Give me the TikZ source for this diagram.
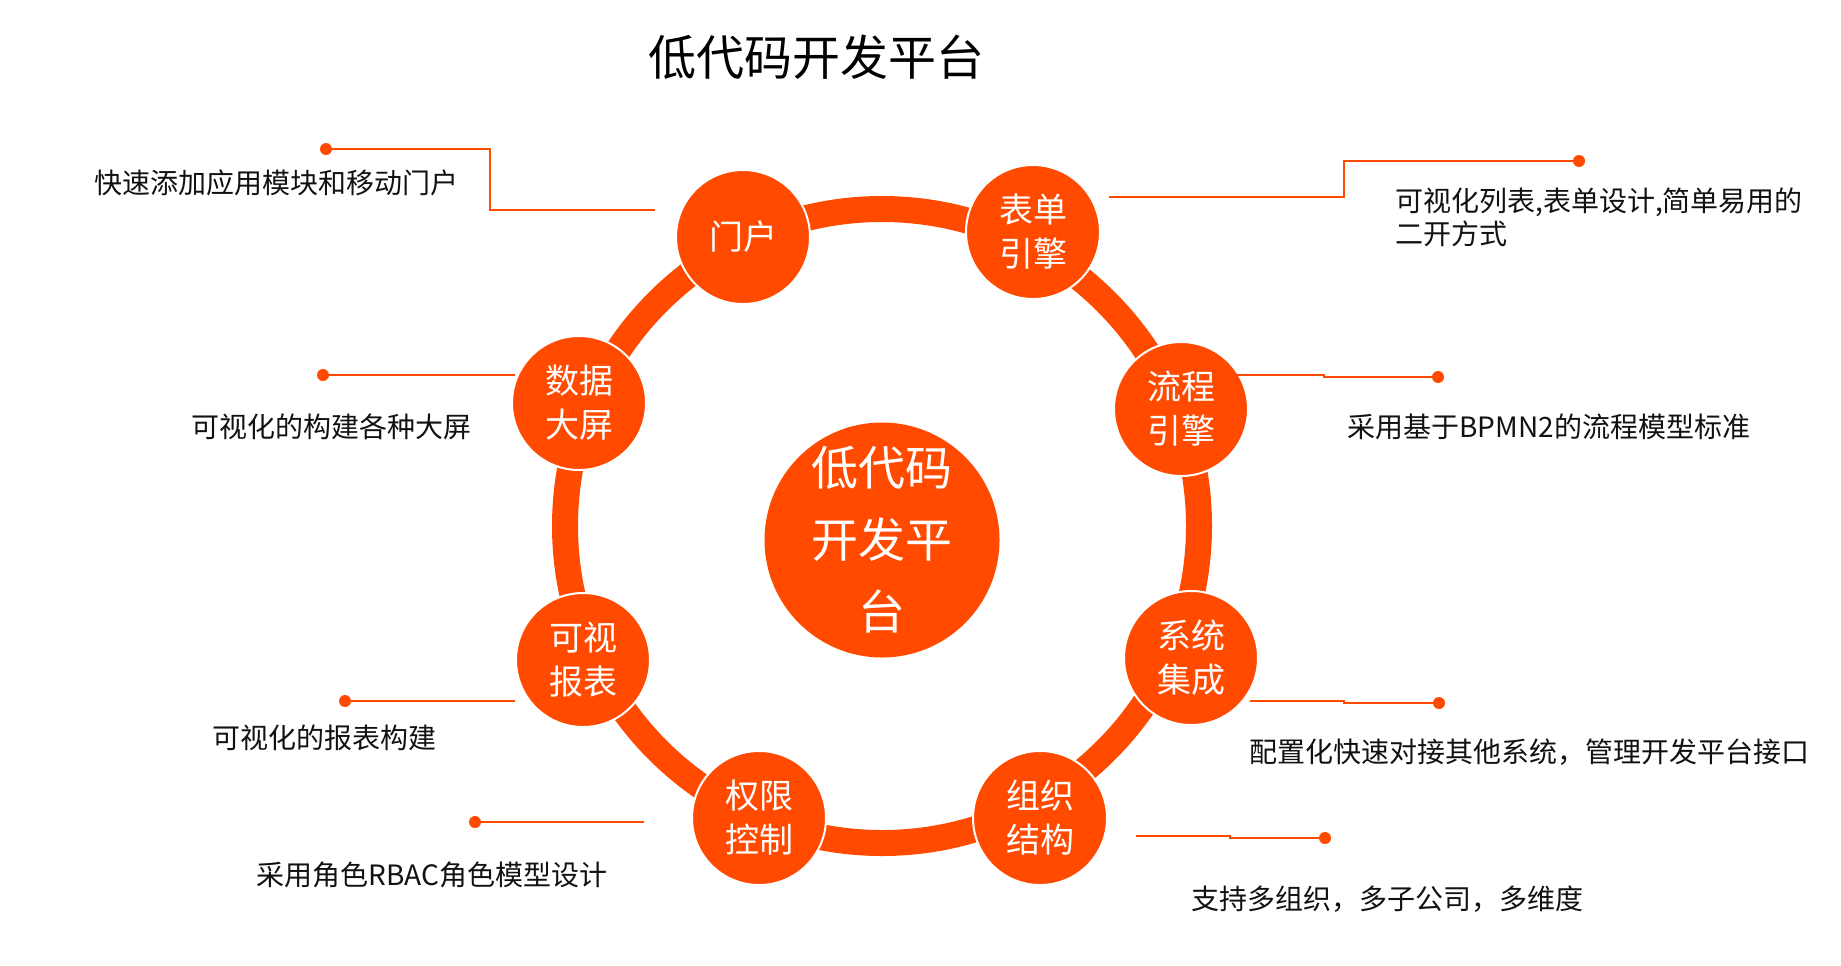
\documentclass[tikz,border=0pt]{standalone}
\usepackage{fontspec}
\usepackage{xcolor}
\usepackage{tikz}
\newfontfamily\cjk{Noto Sans CJK SC}
\definecolor{mainorange}{HTML}{FF4A00}
\definecolor{textblack}{HTML}{111111}

\begin{document}
\begin{tikzpicture}[x=0.5pt, y=-0.5pt,
    ringnode/.style={circle, draw=white, line width=1pt, fill=mainorange, minimum size=67pt, inner sep=0pt, text=white, align=center, font=\cjk\fontsize{17}{22}\selectfont},
    corenode/.style={circle, fill=mainorange, minimum size=117.5pt, inner sep=0pt, text=white, align=center, font=\cjk\fontsize{23.5}{36}\selectfont},
    enddot/.style={circle, fill=mainorange, minimum size=6pt, inner sep=0pt},
    leader/.style={mainorange, line width=1pt},
    note/.style={anchor=west, inner sep=0pt, text=textblack, align=left, font=\cjk\fontsize{14}{16.5}\selectfont}]
    \useasboundingbox (0,0) rectangle (1841,965);

    \node[font=\cjk\fontsize{24}{28}\selectfont, text=black] (title) at (816,57) {低代码开发平台};

    \coordinate (ringc) at (882,526);
    \draw[mainorange, line width=13pt] (ringc) circle[radius=158.5pt];

    \node[corenode] (core) at (882,540) {低代码\\开发平\\台};

    \node[ringnode] (menhu) at (743,237) {门户};
    \node[ringnode] (biaodan) at (1033,232) {表单\\引擎};
    \node[ringnode] (liucheng) at (1181,409) {流程\\引擎};
    \node[ringnode] (xitong) at (1191,658) {系统\\集成};
    \node[ringnode] (zuzhi) at (1040,818) {组织\\结构};
    \node[ringnode] (quanxian) at (759,818) {权限\\控制};
    \node[ringnode] (baobiao) at (583,660) {可视\\报表};
    \node[ringnode] (shuju) at (579,403) {数据\\大屏};

    \coordinate (q1) at (655,210);
    \coordinate (k1) at (490,210);
    \node[enddot] (p1) at (326,149) {};
    \draw[leader] (p1.center) -| (k1) -- (q1);

    \coordinate (q2) at (1109,197);
    \coordinate (k2) at (1344,161);
    \node[enddot] (p2) at (1579,161) {};
    \draw[leader] (q2) -| (k2) -- (p2.center);

    \coordinate (q3) at (1237,375);
    \coordinate (k3) at (1324,377);
    \node[enddot] (p3) at (1438,377) {};
    \draw[leader] (q3) -| (k3) -- (p3.center);

    \coordinate (q4) at (1250,701);
    \coordinate (k4) at (1344,703);
    \node[enddot] (p4) at (1439,703) {};
    \draw[leader] (q4) -| (k4) -- (p4.center);

    \coordinate (q5) at (1136,836);
    \coordinate (k5) at (1230,838);
    \node[enddot] (p5) at (1325,838) {};
    \draw[leader] (q5) -| (k5) -- (p5.center);

    \coordinate (q6) at (644,822);
    \node[enddot] (p6) at (475,822) {};
    \draw[leader] (p6.center) -- (q6);

    \coordinate (q7) at (515,701);
    \node[enddot] (p7) at (345,701) {};
    \draw[leader] (p7.center) -- (q7);

    \coordinate (q8) at (515,375);
    \node[enddot] (p8) at (323,375) {};
    \draw[leader] (p8.center) -- (q8);

    \node[note] (n1) at (94,183) {快速添加应用模块和移动门户};
    \node[note] (n2) at (1395,217.5) {可视化列表,表单设计,简单易用的\\二开方式};
    \node[note] (n3) at (1347,427) {采用基于BPMN2的流程模型标准};
    \node[note] (n4) at (1249,752) {配置化快速对接其他系统，管理开发平台接口};
    \node[note] (n5) at (1191,899) {支持多组织，多子公司，多维度};
    \node[note] (n6) at (256,875) {采用角色RBAC角色模型设计};
    \node[note] (n7) at (212,738) {可视化的报表构建};
    \node[note] (n8) at (191,427) {可视化的构建各种大屏};
\end{tikzpicture}
\end{document}
